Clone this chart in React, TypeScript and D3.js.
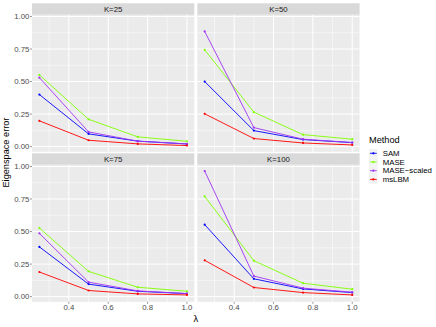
import React from 'react';
import * as d3 from 'd3';

// values
const lambdas = [0.25, 0.5, 0.75, 1.0];
const panelK = [25, 50, 75, 100];
const methods = ['SAM', 'MASE', 'MASE\u2212scaled', 'msLBM'];
const methodColors = ['#0000FF', '#80FF00', '#A033F2', '#FF0000'];

// one row per K panel, one value per lambda
const samErr = [[0.40, 0.098, 0.042, 0.020], [0.50, 0.123, 0.054, 0.031], [0.382, 0.096, 0.041, 0.023], [0.553, 0.137, 0.059, 0.031]];
const maseErr = [[0.551, 0.21, 0.075, 0.041], [0.744, 0.265, 0.092, 0.057], [0.527, 0.194, 0.072, 0.041], [0.77, 0.276, 0.103, 0.057]];
const maseScaledErr = [[0.53, 0.113, 0.042, 0.021], [0.885, 0.146, 0.057, 0.031], [0.486, 0.111, 0.044, 0.023], [0.965, 0.158, 0.065, 0.034]];
const mslbmErr = [[0.198, 0.049, 0.021, 0.008], [0.252, 0.062, 0.028, 0.013], [0.189, 0.047, 0.021, 0.013], [0.279, 0.07, 0.031, 0.013]];

const xTicks = [0.4, 0.6, 0.8, 1.0];
const xMinor = [0.3, 0.5, 0.7, 0.9];
const yTicks = [0, 0.25, 0.5, 0.75, 1.0];
const yMinor = [0.125, 0.375, 0.625, 0.875];

const W = 436, H = 327;
const panelLefts = [32, 197.3];
const stripTops = [3.3, 153.3];
const panelW = 162.3;
const stripH = 11.5;
const panelH = 137;
const font = 'Liberation Sans, Arial, Helvetica, sans-serif';
const small = 7.8;
const big = 9.2;

const App = () => {
  const series = [samErr, maseErr, maseScaledErr, mslbmErr];
  const all = series.flat(2);
  const yMin = d3.min(all)!, yMax = d3.max(all)!;
  const yPad = (yMax - yMin) * 0.05;
  const xPad = (1.0 - 0.25) * 0.05;

  const x = d3.scaleLinear().domain([0.25 - xPad, 1.0 + xPad]).range([0, panelW]);
  const y = d3.scaleLinear().domain([yMin - yPad, yMax + yPad]).range([panelH, 0]);
  const line = d3.line<number>().x((_, i) => x(lambdas[i])).y(d => y(d));

  const fmt = d3.format('.2f');

  return (
    <svg width={W} height={H} style={{ position: 'absolute', left: 0, top: 0 }} fontFamily={font}>
      <rect width={W} height={H} fill="#fff" />
      {panelK.map((k, p) => {
        const col = p % 2, row = Math.floor(p / 2);
        const left = panelLefts[col];
        const sTop = stripTops[row];
        const top = sTop + stripH;
        return (
          <g key={k}>
            <rect x={left} y={sTop} width={panelW} height={stripH} fill="#D9D9D9" />
            <text x={left + panelW / 2} y={sTop + stripH / 2} dy="0.35em" textAnchor="middle" fontSize={small} fill="#1A1A1A">K={k}</text>
            <g transform={`translate(${left},${top})`}>
              <rect width={panelW} height={panelH} fill="#EBEBEB" />
              {yMinor.map(v => <line key={'ym' + v} x1={0} x2={panelW} y1={y(v)} y2={y(v)} stroke="#fff" strokeWidth={0.5} />)}
              {xMinor.map(v => <line key={'xm' + v} y1={0} y2={panelH} x1={x(v)} x2={x(v)} stroke="#fff" strokeWidth={0.5} />)}
              {yTicks.map(v => <line key={'y' + v} x1={0} x2={panelW} y1={y(v)} y2={y(v)} stroke="#fff" strokeWidth={1} />)}
              {xTicks.map(v => <line key={'x' + v} y1={0} y2={panelH} x1={x(v)} x2={x(v)} stroke="#fff" strokeWidth={1} />)}
              {series.map((s, m) => (
                <g key={m}>
                  <path d={line(s[p])!} fill="none" stroke={methodColors[m]} strokeWidth={0.9} />
                  {s[p].map((v, i) => <circle key={i} cx={x(lambdas[i])} cy={y(v)} r={1.1} fill={methodColors[m]} />)}
                </g>
              ))}
              {col === 0 && yTicks.map(v => (
                <g key={'yt' + v}>
                  <line x1={-2} x2={0} y1={y(v)} y2={y(v)} stroke="#333" strokeWidth={0.5} />
                  <text x={-2.7} y={y(v)} dy="0.35em" textAnchor="end" fontSize={small} fill="#4D4D4D">{fmt(v)}</text>
                </g>
              ))}
              {row === 1 && xTicks.map(v => (
                <g key={'xt' + v}>
                  <line y1={panelH} y2={panelH + 2} x1={x(v)} x2={x(v)} stroke="#333" strokeWidth={0.5} />
                  <text x={x(v)} y={panelH + 3} dy="0.71em" textAnchor="middle" fontSize={small} fill="#4D4D4D">{d3.format('.1f')(v)}</text>
                </g>
              ))}
            </g>
          </g>
        );
      })}
      <text transform={`translate(9.3,${(stripTops[0] + stripTops[1] + stripH + panelH) / 2}) rotate(-90)`} textAnchor="middle" fontSize={big} fill="#000">Eigenspace error</text>
      <text x={(panelLefts[0] + panelLefts[1] + panelW) / 2} y={322} textAnchor="middle" fontSize={big} fill="#000">λ</text>
      <g transform="translate(369,0)">
        <text x={0} y={140} dy="0.35em" fontSize={big} fill="#000">Method</text>
        {methods.map((m, i) => {
          const cy = 153.3 + i * 8.7;
          return (
            <g key={m}>
              <rect x={0} y={cy - 4.35} width={8.7} height={8.7} fill="#F2F2F2" />
              <line x1={1} x2={7.7} y1={cy} y2={cy} stroke={methodColors[i]} strokeWidth={0.9} />
              <circle cx={4.35} cy={cy} r={1.1} fill={methodColors[i]} />
              <text x={13.7} y={cy} dy="0.35em" fontSize={small} fill="#000">{m}</text>
            </g>
          );
        })}
      </g>
    </svg>
  );
};

export default App;
